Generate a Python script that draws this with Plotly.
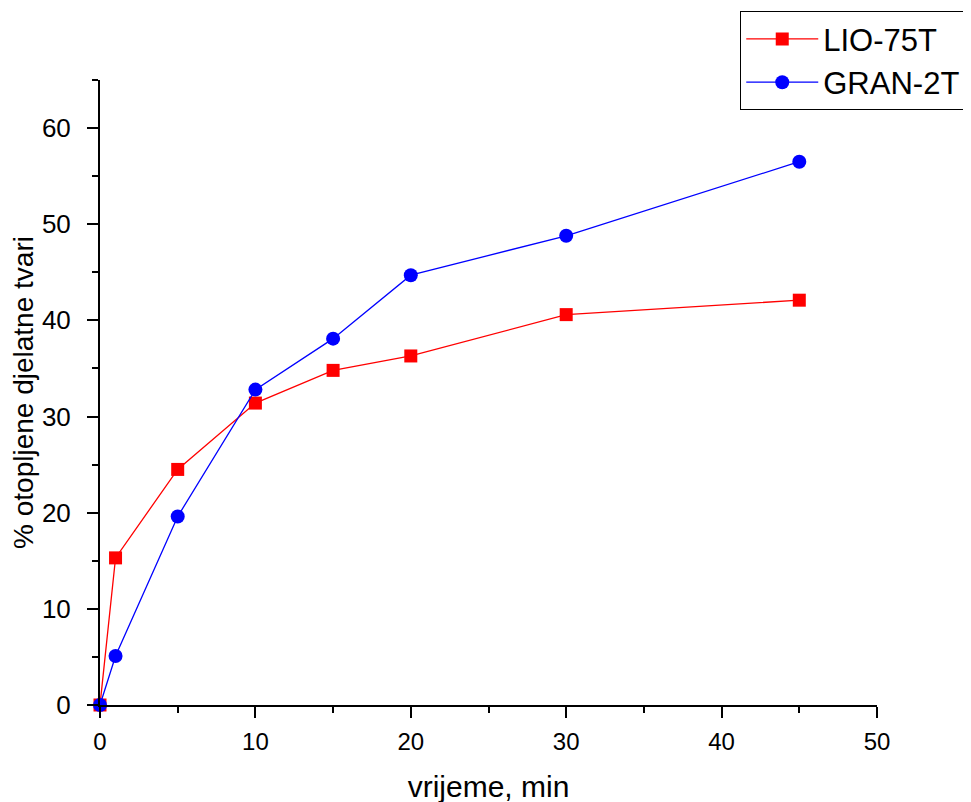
import plotly.graph_objects as go

time_min = [0, 1, 5, 10, 15, 20, 30, 45]
lio_75t = [0, 15.3, 24.5, 31.4, 34.8, 36.3, 40.6, 42.1]
gran_2t = [0, 5.1, 19.6, 32.8, 38.1, 44.7, 48.8, 56.5]

FONT = "Liberation Sans, Arial, sans-serif"

fig = go.Figure()
fig.add_trace(go.Scatter(
    x=time_min, y=lio_75t, name="LIO-75T", mode="lines+markers",
    line=dict(color="#ff0000", width=1.3),
    marker=dict(symbol="square", size=13, color="#ff0000"),
    cliponaxis=False,
))
fig.add_trace(go.Scatter(
    x=time_min, y=gran_2t, name="GRAN-2T", mode="lines+markers",
    line=dict(color="#0000ff", width=1.3),
    marker=dict(symbol="circle", size=14, color="#0000ff"),
    cliponaxis=False,
))

axis_common = dict(
    showline=True, linecolor="black", linewidth=2, mirror=False,
    ticks="outside", ticklen=11, tickwidth=2, tickcolor="black",
    showgrid=False, zeroline=False,
    minor=dict(ticks="outside", ticklen=6, tickwidth=2, tickcolor="black", dtick=5, showgrid=False),
)

fig.update_xaxes(
    range=[0, 50], dtick=10, tick0=0,
    tickfont=dict(family=FONT, size=24, color="black"),
    title=dict(text="vrijeme, min", font=dict(family=FONT, size=30, color="black"), standoff=22),
    ticklabelstandoff=3,
    **axis_common,
)
fig.update_yaxes(
    range=[0, 65], tickvals=[0, 10, 20, 30, 40, 50, 60],
    tickfont=dict(family=FONT, size=26, color="black"),
    title=dict(text="% otopljene djelatne tvari", font=dict(family=FONT, size=28, color="black"), standoff=4),
    ticklabelstandoff=11,
    **axis_common,
)

fig.update_layout(
    width=971, height=802,
    margin=dict(l=92, r=102, t=72, b=105, autoexpand=False),
    paper_bgcolor="white", plot_bgcolor="white",
    font=dict(family=FONT, size=24, color="black"),
    legend=dict(
        x=0.824, y=1.11, xanchor="left", yanchor="top",
        bordercolor="black", borderwidth=1, bgcolor="white",
        font=dict(family=FONT, size=31, color="black"),
        itemwidth=72, tracegroupgap=0,
    ),
)

fig.write_html("out.html")
